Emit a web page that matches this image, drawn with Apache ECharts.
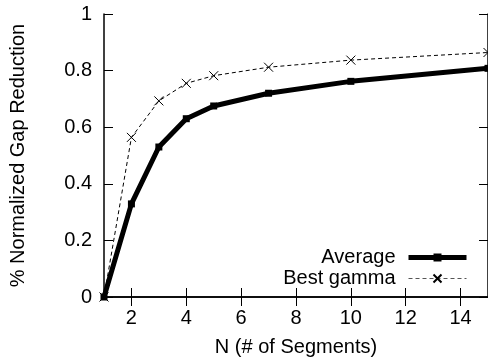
<!DOCTYPE html>
<html>
<head>
<meta charset="utf-8">
<script src="https://cdn.jsdelivr.net/npm/echarts@6/dist/echarts.min.js"></script>
<style>
  html, body { margin: 0; padding: 0; background: #fff; }
  #chart { width: 488px; height: 363px; }
</style>
</head>
<body>
<div id="chart"></div>
<script>
// N values (number of segments)
const segments = [1, 2, 3, 4, 5, 7, 10, 15]
const average = [0, 0.329, 0.53, 0.63, 0.675, 0.72, 0.762, 0.808]
const bestGamma = [0, 0.564, 0.693, 0.755, 0.782, 0.812, 0.837, 0.864]

const xTicks = [2, 4, 6, 8, 10, 12, 14]
const yTicks = [0, 0.2, 0.4, 0.6, 0.8, 1]

const font = 'Liberation Sans'
const fs = 20

function pairs(ys) {
  return segments.map((x, i) => [x, ys[i]])
}

const chart = echarts.init(document.getElementById('chart'))

const tick = { show: true, inside: true, length: 9, lineStyle: { color: '#000', width: 1 } }
const border = { show: true, lineStyle: { color: '#000', width: 1.5 } }

chart.setOption({
  animation: false,
  textStyle: { fontFamily: font },
  grid: { left: 104, top: 14, right: -5, bottom: 66 },
  legend: {
    orient: 'vertical',
    right: 14,
    top: 242,
    align: 'right',
    itemWidth: 58,
    itemHeight: 10,
    itemGap: 0,
    selectedMode: false,
    textStyle: { fontSize: fs, lineHeight: 21, color: '#000', fontFamily: font, padding: [0, 8, 0, 0] },
    data: [
      { name: 'Average', lineStyle: { width: 5, color: '#000' } },
      { name: 'Best gamma', lineStyle: { width: 1, color: '#555', type: [4, 3] } }
    ]
  },
  xAxis: [{
    type: 'value',
    min: 1,
    max: 15,
    interval: 1,
    name: 'N (# of Segments)',
    nameLocation: 'middle',
    nameGap: 40,
    nameTextStyle: { fontSize: fs, color: '#000', fontFamily: font },
    axisLine: border,
    axisTick: { ...tick, customValues: xTicks },
    axisLabel: { fontSize: fs, color: '#000', margin: 11, fontFamily: font, customValues: xTicks },
    splitLine: { show: false }
  }, {
    type: 'value',
    position: 'top',
    min: 1,
    max: 15,
    axisLine: border,
    axisTick: { ...tick, customValues: xTicks },
    axisLabel: { show: false },
    splitLine: { show: false }
  }],
  yAxis: [{
    type: 'value',
    min: 0,
    max: 1,
    interval: 0.2,
    name: '% Normalized Gap Reduction',
    nameLocation: 'middle',
    nameGap: 76,
    nameTextStyle: { fontSize: fs, color: '#000', fontFamily: font },
    axisLine: border,
    axisTick: { ...tick, customValues: yTicks },
    axisLabel: { fontSize: fs, color: '#000', margin: 12, fontFamily: font },
    splitLine: { show: false }
  }, {
    type: 'value',
    position: 'right',
    min: 0,
    max: 1,
    interval: 0.2,
    axisLine: border,
    axisTick: tick,
    axisLabel: { show: false },
    splitLine: { show: false }
  }],
  series: [{
    name: 'Best gamma',
    type: 'line',
    data: pairs(bestGamma),
    symbol: 'path://M0 0L10 10M10 0L0 10',
    symbolSize: 9,
    showAllSymbol: true,
    lineStyle: { color: '#000', width: 1, type: [4, 3] },
    itemStyle: { color: 'none', borderColor: '#000', borderWidth: 1 },
    z: 2
  }, {
    name: 'Average',
    type: 'line',
    data: pairs(average),
    symbol: 'rect',
    symbolSize: 7,
    lineStyle: { color: '#000', width: 5 },
    itemStyle: { color: '#000' },
    z: 3
  }]
})
</script>
</body>
</html>
